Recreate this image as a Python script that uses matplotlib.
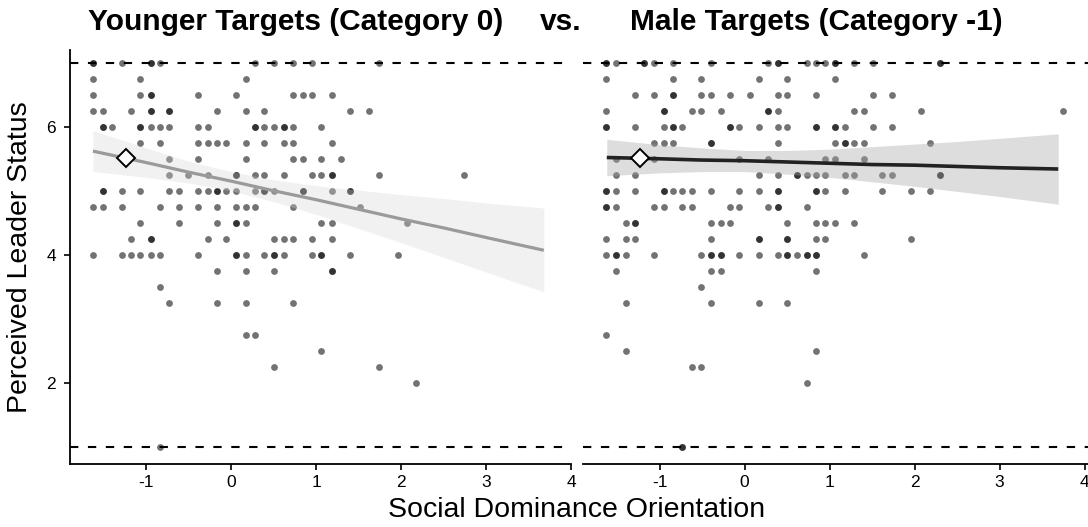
import matplotlib
matplotlib.use("Agg")
import matplotlib.pyplot as plt
import numpy as np

plt.rcParams['font.family'] = ['Liberation Sans', 'DejaVu Sans']

# ---------------- data ----------------
levels = [7.0, 6.75, 6.5, 6.25, 6.0, 5.75, 5.5, 5.25, 5.0, 4.75, 4.5, 4.25,
          4.0, 3.75, 3.5, 3.25, 2.75, 2.5, 2.25, 2.0, 1.0]

# Younger targets (Category 0): SDO values of respondents at each status level
younger_sdo = [
    [-1.63, -1.63, -1.29, -0.95, -0.95, -0.84, 0.28, 0.50, 0.73, 0.95, 1.74],
    [-1.63, -1.07, 0.17],
    [-1.63, -1.07, -0.95, -0.95, -0.39, 0.06, 0.73, 0.84, 0.95, 1.18],
    [-1.63, -1.51, -1.18, -0.95, -0.95, -0.73, -0.73, -0.17, 0.17, 0.39, 1.40, 1.62],
    [-1.51, -1.51, -1.40, -1.07, -1.07, -0.95, -0.84, -0.73, -0.39, -0.28, 0.28, 0.28,
     0.39, 0.50, 0.62, 0.62, 0.73, 1.06],
    [-1.07, -0.84, -0.39, -0.28, -0.17, -0.06, 0.17, 0.39, 0.62, 0.73, 1.18],
    [-0.73, -0.39, 0.17, 0.73, 0.84, 1.06, 1.29],
    [-0.73, -0.51, -0.28, 0.06, 0.06, 0.28, 0.39, 0.62, 0.95, 1.06, 1.18, 1.18, 1.74, 2.74],
    [-1.51, -1.51, -1.29, -1.07, -0.73, -0.62, -0.39, -0.28, -0.17, -0.17, -0.06, 0.06,
     0.28, 0.39, 0.39, 0.50, 0.84, 0.84, 1.18, 1.40, 1.40],
    [-1.63, -1.51, -1.29, -0.84, -0.62, -0.39, -0.17, 0.06, 0.17, 0.28, 0.73, 1.51],
    [-1.07, -0.62, -0.17, 0.06, 0.06, 0.17, 1.06, 1.18, 2.07],
    [-1.18, -0.95, -0.95, -0.28, -0.06, 0.50, 0.62, 0.73, 0.95, 1.18],
    [-1.63, -1.29, -1.18, -1.07, -0.95, -0.84, -0.39, 0.06, 0.06, 0.17, 0.39, 0.50, 0.50,
     0.62, 0.95, 1.06, 1.06, 1.40, 1.96],
    [-0.17, 0.17, 0.50, 1.18, 1.18],
    [-0.84],
    [-0.73, -0.17, 0.17, 0.73],
    [0.17, 0.28],
    [1.06],
    [0.50, 1.74],
    [2.18],
    [-0.84],
]

# Male targets (Category -1)
male_sdo = [
    [-1.63, -1.63, -1.51, -1.18, -1.18, -1.07, -0.84, -0.39, 0.28, 0.39, 0.39, 0.73, 0.84,
     0.95, 1.06, 1.06, 1.29, 1.51, 2.30, 2.30],
    [-1.63, -0.84, -0.51, 0.17, 0.50, 1.06],
    [-1.29, -1.07, -0.84, -0.84, -0.51, -0.39, -0.17, 0.06, 0.39, 0.50, 0.84, 1.51, 1.74],
    [-1.63, -0.95, -0.95, -0.62, -0.51, -0.28, 0.28, 0.28, 0.39, 1.29, 1.40, 2.07, 3.75],
    [-1.63, -1.63, -1.29, -0.95, -0.84, -0.84, -0.73, -0.17, -0.17, -0.06, 0.17, 0.39, 0.50,
     0.84, 0.84, 1.06, 1.06, 1.18, 1.51, 1.74],
    [-1.07, -0.95, -0.84, -0.39, -0.39, 0.39, 1.06, 1.18, 1.18, 1.29, 1.40, 2.18],
    [-1.51, -1.07, -0.06, 0.28, 0.95, 1.06, 1.40],
    [-1.51, -1.29, 0.17, 0.39, 0.62, 0.62, 0.73, 0.84, 0.95, 1.18, 1.29, 1.62, 1.74, 2.30, 2.30],
    [-1.63, -1.63, -1.51, -1.29, -0.95, -0.95, -0.84, -0.73, -0.62, -0.39, -0.06, 0.17, 0.39,
     0.39, 0.84, 0.84, 0.95, 1.18, 1.62, 1.96, 2.18],
    [-1.63, -1.63, -1.51, -1.07, -0.95, -0.73, -0.62, -0.17, -0.06, 0.28, 0.39, 0.39, 0.73],
    [-1.40, -1.29, -1.29, -0.39, -0.28, -0.17, 0.50, 0.84, 0.95, 1.06, 1.29],
    [-1.63, -1.40, -1.29, -0.39, 0.17, 0.17, 0.50, 0.50, 0.84, 0.95, 1.96],
    [-1.63, -1.51, -1.51, -1.40, -1.07, -0.51, -0.39, -0.39, -0.28, -0.28, -0.06, 0.17, 0.39,
     0.50, 0.50, 0.62, 0.73, 0.73, 0.84, 0.84, 1.40],
    [-1.51, -0.39, -0.28, 0.84],
    [-0.51],
    [-1.40, -0.39, 0.17, 0.50],
    [-1.63],
    [-1.40, 0.84],
    [-0.62, -0.51],
    [0.73],
    [-0.73, -0.73],
]

# fitted line and confidence band
younger_band_x = [-1.63, -1.0, -0.5, 0.0, 0.5, 1.0, 1.5, 2.0, 2.5, 3.0, 3.68]
younger_fit = [5.63, 5.45, 5.30, 5.16, 5.01, 4.87, 4.72, 4.57, 4.43, 4.28, 4.08]
younger_lo = [5.31, 5.22, 5.13, 5.01, 4.84, 4.64, 4.42, 4.20, 3.97, 3.74, 3.43]
younger_hi = [5.95, 5.68, 5.47, 5.31, 5.18, 5.09, 5.02, 4.95, 4.89, 4.82, 4.74]

male_band_x = [-1.62, -1.0, -0.5, 0.0, 0.5, 1.0, 1.5, 2.0, 2.5, 3.0, 3.69]
male_fit = [5.53, 5.51, 5.49, 5.48, 5.46, 5.44, 5.42, 5.41, 5.39, 5.37, 5.35]
male_lo = [5.245, 5.29, 5.31, 5.31, 5.27, 5.22, 5.15, 5.08, 5.00, 4.92, 4.80]
male_hi = [5.815, 5.73, 5.68, 5.64, 5.64, 5.66, 5.70, 5.74, 5.78, 5.83, 5.90]

# simple slope marker at -1 SD
younger_marker = (-1.24, 5.52)
male_marker = (-1.23, 5.52)

scale_bounds = [1, 7]
x_ticks = [-1, 0, 1, 2, 3, 4]
y_ticks = [2, 4, 6]


def flatten(levels, sdo):
    xs, ys = [], []
    for lv, vals in zip(levels, sdo):
        xs.extend(vals)
        ys.extend([lv] * len(vals))
    return np.array(xs), np.array(ys)


W, H = 1088, 527
fig = plt.figure(figsize=(W / 100, H / 100), dpi=100)
ax1 = fig.add_axes([70 / W, 63 / H, 501 / W, 414 / H])
ax2 = fig.add_axes([583 / W, 63 / H, 505 / W, 414 / H])

panels = [
    (ax1, younger_sdo, younger_band_x, younger_fit, younger_lo, younger_hi,
     '#9a9a9a', '#d4d4d4', 0.32, younger_marker, 2.3),
    (ax2, male_sdo, male_band_x, male_fit, male_lo, male_hi,
     '#222222', '#a8a8a8', 0.38, male_marker, 2.6),
]

for ax, sdo, bx, fit, lo, hi, lcol, fcol, falpha, mk, lw in panels:
    xs, ys = flatten(levels, sdo)
    ax.scatter(xs, ys, s=24, color='black', alpha=0.55, linewidths=0, zorder=2)
    for b in scale_bounds:
        ax.axhline(b, color='black', lw=1.5, dashes=(4.0, 4.6), zorder=3)
    ax.fill_between(bx, lo, hi, color=fcol, alpha=falpha, linewidth=0, zorder=4)
    ax.plot(bx, fit, color=lcol, lw=lw, solid_capstyle='butt', zorder=5)
    ax.plot([mk[0]], [mk[1]], marker='D', markersize=9, markerfacecolor='white',
            markeredgecolor='black', markeredgewidth=1.4, zorder=6)
    ax.set_xlim(-1.9, 4.0)
    ax.set_ylim(0.74, 7.21)
    ax.set_xticks(x_ticks)
    ax.set_xticklabels(['-1', '0', '1', '2', '3', '4'])
    ax.tick_params(axis='x', length=4, width=1.2, labelsize=12.5, pad=4)
    ax.spines['top'].set_visible(False)
    ax.spines['right'].set_visible(False)
    ax.spines['bottom'].set_linewidth(1.3)
    ax.set_facecolor('none')

ax1.set_yticks(y_ticks)
ax1.set_yticklabels(['2', '4', '6'])
ax1.tick_params(axis='y', length=4, width=1.2, labelsize=12.5, pad=6)
ax1.spines['left'].set_linewidth(1.3)
ax2.spines['left'].set_visible(False)
ax2.set_yticks([])
ax2.set_xlim(-1.9, 4.04)

fig.text(296 / W, 1 - 22 / H, 'Younger Targets (Category 0)', ha='center', va='center',
         fontsize=21.5, weight='bold')
fig.text(561 / W, 1 - 22 / H, 'vs.', ha='center', va='center', fontsize=21.5, weight='bold')
fig.text(816 / W, 1 - 22 / H, 'Male Targets (Category -1)', ha='center', va='center',
         fontsize=21.5, weight='bold')
fig.text(20 / W, 1 - 257 / H, 'Perceived Leader Status', rotation=90, ha='center',
         va='center', fontsize=20.5)
fig.text(577 / W, 1 - 510 / H, 'Social Dominance Orientation', ha='center', va='center',
         fontsize=20.5)

fig.savefig('out.png', dpi=100)
